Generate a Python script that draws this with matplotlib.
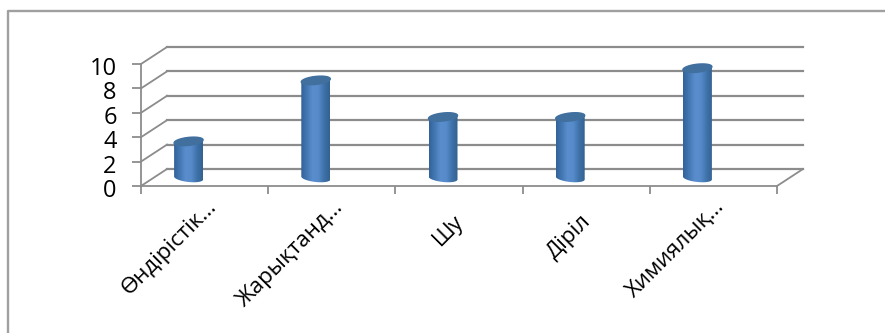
import numpy as np
import matplotlib
matplotlib.use("Agg")
import matplotlib.pyplot as plt
from matplotlib.patches import PathPatch
from matplotlib.path import Path
from matplotlib.colors import LinearSegmentedColormap
from matplotlib.transforms import ScaledTranslation

categories = ["Өндірістік…", "Жарықтанд…", "Шу", "Діріл", "Химиялық…"]
values = [3, 8, 5, 5, 9]
y_ticks = [0, 2, 4, 6, 8, 10]

W, H = 885, 333
GRID = "#8c8c8c"
FONT = "Open Sans"

# plot floor / wall geometry, pixels
LEFT, RIGHT, Y0, Y10 = 141, 777, 186, 64
DEPTH_X, DEPTH_Y = 26, 17

fig = plt.figure(figsize=(W / 100, H / 100), dpi=100, facecolor="white")

# outer border, only left and top edges are visible
fig.add_artist(plt.Line2D([7.5 / W, 7.5 / W, 1], [0, 1 - 11 / H, 1 - 11 / H], color="#a0a0a0", lw=1.7,
                          transform=fig.transFigure))

ax = fig.add_axes([LEFT / W, 1 - Y0 / H, (RIGHT - LEFT) / W, (Y0 - Y10) / H])
ax.set_xlim(0, len(categories))
ax.set_ylim(0, 10)
ax.patch.set_visible(False)
for side in ["top", "right"]:
    ax.spines[side].set_visible(False)
for side in ["left", "bottom"]:
    ax.spines[side].set_color(GRID)
    ax.spines[side].set_linewidth(1.3)


def shifted(dx, dy):
    return ax.transData + ScaledTranslation(dx / 100, dy / 100, fig.dpi_scale_trans)


def depth_line(x, y):
    # slanted line from the front plane to the back wall, in figure pixels
    x0, y0 = ax.transData.transform((x, y))
    x1, y1 = back.transform((x, y))
    fig.add_artist(plt.Line2D([x0 / W, x1 / W], [y0 / H, y1 / H], color=GRID, lw=1.3,
                              transform=fig.transFigure))


# back wall gridlines and the slanted side wall
back = shifted(DEPTH_X, DEPTH_Y)
for t in y_ticks:
    ax.plot([0, len(categories)], [t, t], color=GRID, lw=1.6, transform=back, clip_on=False, zorder=1)
    depth_line(0, t)
depth_line(len(categories), 0)

ax.set_yticks(y_ticks)
ax.set_yticklabels([str(t) for t in y_ticks], fontsize=17, family=FONT, color="black")
ax.set_xticks(np.arange(len(categories) + 1))
ax.set_xticklabels([])
ax.tick_params(axis="y", length=6.5, width=1.3, color=GRID, pad=11)
ax.tick_params(axis="x", length=6, width=1.3, color=GRID)
# nudge the value labels slightly below their ticks
for lab in ax.get_yticklabels():
    lab.set_transform(lab.get_transform() + ScaledTranslation(0, -0.02, fig.dpi_scale_trans))

# rotated category labels, anchored at their top right end
for i, label in enumerate(categories):
    offset = (1, -10) if label.endswith("…") else (-6, -25)
    ax.annotate(label, xy=(i + 0.5, 0), xytext=offset, textcoords="offset pixels",
                rotation=45, rotation_mode="anchor", ha="right", va="top",
                fontsize=16, family=FONT, color="black", annotation_clip=False)

# cylinders: horizontal gradient clipped to a body + elliptical caps
cmap = LinearSegmentedColormap.from_list("cyl", ["#33629a", "#4378b4", "#5a8dcd", "#568bca", "#3f72ab", "#33628f"])
gradient = np.linspace(0, 1, 64).reshape(1, -1)

half_w = 14.5 / ((RIGHT - LEFT) / len(categories))
unit_y = (Y0 - Y10) / 10
cap_h = 4 / unit_y
tilt = 1.5 / unit_y
bar_tf = shifted(-16, 8)
t_top = np.linspace(0, np.pi, 40)
t_bot = np.linspace(np.pi, 2 * np.pi, 40)

for i, v in enumerate(values):
    cx = i + 0.5
    xs = np.r_[cx + half_w * np.cos(t_bot), cx + half_w * np.cos(t_top)]
    ys = np.r_[cap_h * np.sin(t_bot) - tilt * np.cos(t_bot),
               v + cap_h * np.sin(t_top) + tilt * np.cos(t_top)]
    outline = PathPatch(Path(np.c_[xs, ys]), transform=bar_tf, fc="none", ec="none")
    ax.add_patch(outline)
    im = ax.imshow(gradient, cmap=cmap, aspect="auto", extent=(cx - half_w, cx + half_w, -1, v + 1),
                   transform=bar_tf, zorder=3)
    im.set_clip_path(outline)
    # darker top cap
    tt = np.linspace(0, 2 * np.pi, 80)
    ax.fill(cx + half_w * np.cos(tt), v + cap_h * np.sin(tt) + tilt * np.cos(tt),
            color="#41709f", transform=bar_tf, zorder=4, clip_on=False)

ax.set_xlim(0, len(categories))
ax.set_ylim(0, 10)
fig.savefig("out.png", dpi=100, facecolor="white")
